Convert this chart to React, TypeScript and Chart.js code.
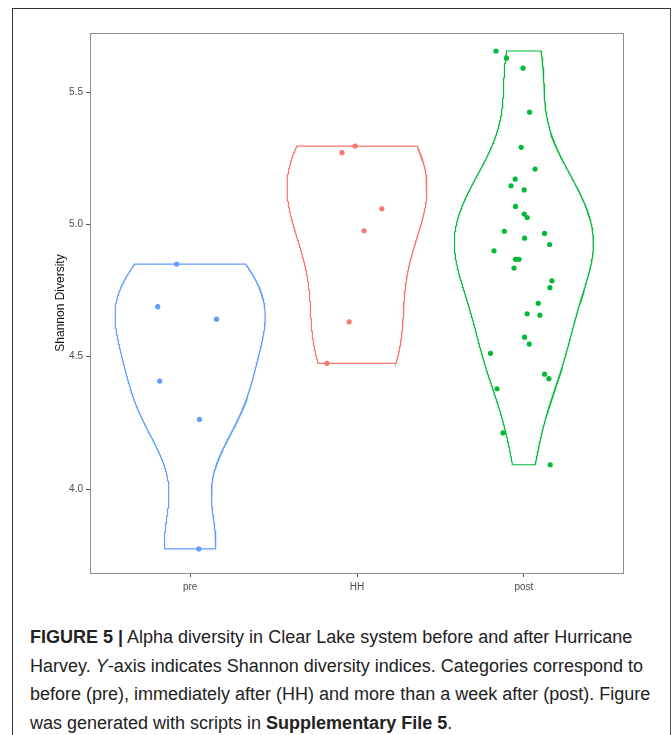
import React, { useEffect, useRef } from 'react';
import { Chart, registerables } from 'chart.js';

Chart.register(...registerables);

// ---------- data ----------
const categories = ['pre', 'HH', 'post'];
const groupColors = ['#619CFF', '#F8766D', '#00BA38'];
const yTickValues = [4.0, 4.5, 5.0, 5.5];

const preValues = [4.85, 4.689, 4.642, 4.408, 4.263, 3.774];
const preJitter = [-0.081, -0.194, 0.158, -0.182, 0.056, 0.052];

const hhValues = [5.296, 5.271, 5.059, 4.976, 4.632, 4.475];
const hhJitter = [-0.011, -0.09, 0.149, 0.043, -0.047, -0.18];

const postValues = [
  5.655, 5.628, 5.59, 5.424, 5.291, 5.209, 5.171, 5.146, 5.13, 5.068, 5.039,
  5.026, 4.974, 4.966, 4.948, 4.924, 4.9, 4.868, 4.868, 4.835, 4.787, 4.761,
  4.702, 4.662, 4.657, 4.574, 4.548, 4.513, 4.434, 4.417, 4.379, 4.212, 4.092,
];
const postJitter = [
  -0.167, -0.104, -0.005, 0.034, -0.016, 0.067, -0.052, -0.077, 0.002, -0.05,
  0.002, 0.02, -0.117, 0.124, 0.004, 0.154, -0.179, -0.05, -0.029, -0.059,
  0.168, 0.156, 0.086, 0.02, 0.096, 0.004, 0.032, -0.2, 0.124, 0.15, -0.161,
  -0.125, 0.158,
];

const groupValues = [preValues, hhValues, postValues];
const groupJitter = [preJitter, hhJitter, postJitter];

// ---------- violin density (gaussian KDE, bw.nrd0, trimmed) ----------
function bwNrd0(x: number[]): number {
  const n = x.length;
  const mean = x.reduce((a, b) => a + b, 0) / n;
  const sd = Math.sqrt(x.reduce((a, b) => a + (b - mean) ** 2, 0) / (n - 1));
  const s = [...x].sort((a, b) => a - b);
  const q = (p: number) => {
    const h = (n - 1) * p;
    const lo = Math.floor(h);
    const hi = Math.min(lo + 1, n - 1);
    return s[lo] + (h - lo) * (s[hi] - s[lo]);
  };
  const iqr = q(0.75) - q(0.25);
  let lo = Math.min(sd, iqr / 1.34);
  if (!lo) lo = sd || Math.abs(s[0]) || 1;
  return 0.9 * lo * Math.pow(n, -0.2);
}

function kde(x: number[], n = 512) {
  const bw = bwNrd0(x);
  const min = Math.min(...x);
  const max = Math.max(...x);
  const ys: number[] = [];
  const ds: number[] = [];
  for (let i = 0; i < n; i++) {
    const y = min + ((max - min) * i) / (n - 1);
    let d = 0;
    for (const xi of x) {
      const z = (y - xi) / bw;
      d += Math.exp(-0.5 * z * z);
    }
    d /= x.length * bw * Math.sqrt(2 * Math.PI);
    ys.push(y);
    ds.push(d);
  }
  return { ys, ds };
}

const VIOLIN_WIDTH = 0.9;

function buildDatasets() {
  const dens = groupValues.map((v) => kde(v));
  const maxD = Math.max(...dens.map((d) => Math.max(...d.ds)));
  const datasets: any[] = [];
  dens.forEach((d, gi) => {
    const cx = gi + 1;
    const left = d.ys.map((y, i) => ({ x: cx - (d.ds[i] / maxD) * (VIOLIN_WIDTH / 2), y }));
    const right = d.ys
      .map((y, i) => ({ x: cx + (d.ds[i] / maxD) * (VIOLIN_WIDTH / 2), y }))
      .reverse();
    const outline = [...left, ...right, left[0]];
    datasets.push({
      type: 'scatter',
      data: outline,
      showLine: true,
      borderColor: groupColors[gi],
      borderWidth: 1.2,
      pointRadius: 0,
      fill: false,
      tension: 0,
      order: 2,
    });
  });
  groupValues.forEach((vals, gi) => {
    datasets.push({
      type: 'scatter',
      data: vals.map((y, i) => ({ x: gi + 1 + groupJitter[gi][i], y })),
      backgroundColor: groupColors[gi],
      borderColor: groupColors[gi],
      pointRadius: 2.6,
      pointBorderWidth: 0,
      showLine: false,
      order: 1,
    });
  });
  return datasets;
}

const panelBorder = {
  id: 'panelBorder',
  afterDraw(chart: any) {
    const { ctx, chartArea: a } = chart;
    ctx.save();
    ctx.strokeStyle = '#8c8c8c';
    ctx.lineWidth = 1;
    ctx.strokeRect(
      Math.round(a.left) + 0.5,
      Math.round(a.top) + 0.5,
      Math.round(a.right - a.left) - 1,
      Math.round(a.bottom - a.top)
    );
    ctx.restore();
  },
};

const CANVAS_W = 656;
const CANVAS_H = 600;

export default function App() {
  const ref = useRef<HTMLCanvasElement | null>(null);

  useEffect(() => {
    if (!ref.current) return;
    const tickFont = { family: '"Liberation Sans", Arial, sans-serif', size: 10 };
    const chart = new Chart(ref.current, {
      type: 'scatter',
      data: { datasets: buildDatasets() },
      options: {
        animation: false,
        responsive: false,
        devicePixelRatio: 1,
        layout: { padding: { left: 0, top: 25, right: 45, bottom: 0 } },
        plugins: { legend: { display: false }, tooltip: { enabled: false } },
        scales: {
          x: {
            type: 'linear',
            min: 0.4,
            max: 3.6,
            afterBuildTicks: (scale: any) => {
              scale.ticks = categories.map((_, i) => ({ value: i + 1 }));
            },
            afterFit: (scale: any) => {
              scale.height = 35;
            },
            ticks: {
              callback: (v: any) => categories[Math.round(v) - 1],
              color: '#4d4d4d',
              font: tickFont,
              padding: 4,
              maxRotation: 0,
            },
            grid: {
              display: true,
              drawOnChartArea: false,
              drawTicks: true,
              tickLength: 4,
              color: '#555',
            },
            border: { display: false },
          },
          y: {
            type: 'linear',
            min: 3.683,
            max: 5.723,
            afterBuildTicks: (scale: any) => {
              scale.ticks = yTickValues.map((v) => ({ value: v }));
            },
            afterFit: (scale: any) => {
              scale.width = 77;
            },
            ticks: {
              callback: (v: any) => Number(v).toFixed(1),
              color: '#4d4d4d',
              font: tickFont,
              padding: 3,
            },
            grid: {
              display: true,
              drawOnChartArea: false,
              drawTicks: true,
              tickLength: 4,
              color: '#555',
            },
            border: { display: false },
            title: {
              display: true,
              text: 'Shannon Diversity',
              color: '#111',
              font: { family: '"Liberation Sans", Arial, sans-serif', size: 12 },
              padding: { top: 40, bottom: 0 },
            },
          },
        },
      },
      plugins: [panelBorder],
    } as any);
    return () => chart.destroy();
  }, []);

  return (
    <div
      style={{
        position: 'fixed',
        left: 0,
        top: 0,
        width: 672,
        height: 735,
        overflow: 'hidden',
        background: '#fff',
      }}
    >
      <div
        style={{
          position: 'absolute',
          left: 12,
          top: 8,
          width: 659,
          height: 800,
          boxSizing: 'border-box',
          borderTop: '1.5px solid #333',
          borderLeft: '1.5px solid #333',
          borderRight: '1.5px solid #555',
        }}
      />
      <div style={{ position: 'absolute', left: 13, top: 8, width: CANVAS_W, height: CANVAS_H }}>
        <canvas ref={ref} width={CANVAS_W} height={CANVAS_H} style={{ width: CANVAS_W, height: CANVAS_H }} />
      </div>
      <div
        style={{
          position: 'absolute',
          left: 30,
          top: 623,
          fontFamily: '"Liberation Sans", Arial, sans-serif',
          fontSize: 18,
          lineHeight: '28.5px',
          color: '#222',
          whiteSpace: 'nowrap',
          letterSpacing: 0,
        }}
      >
        <div>
          <b>FIGURE 5 |</b> Alpha diversity in Clear Lake system before and after Hurricane
        </div>
        <div>
          Harvey. <i>Y</i>-axis indicates Shannon diversity indices. Categories correspond to
        </div>
        <div>before (pre), immediately after (HH) and more than a week after (post). Figure</div>
        <div>
          was generated with scripts in <b>Supplementary File 5</b>.
        </div>
      </div>
    </div>
  );
}
